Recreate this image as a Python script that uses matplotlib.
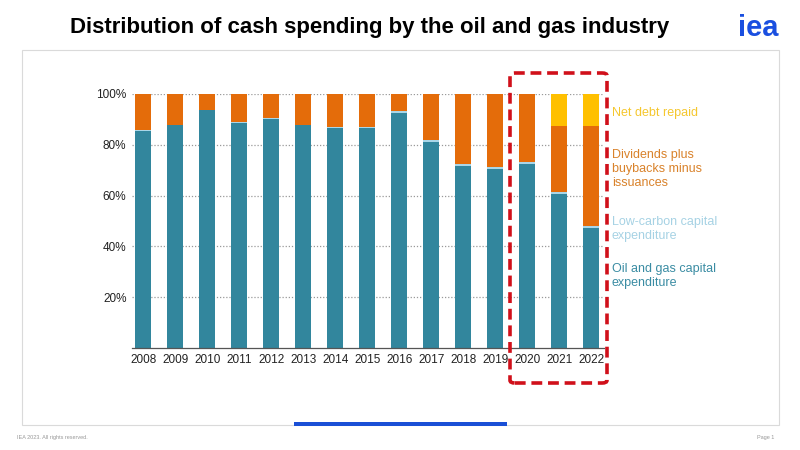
import matplotlib.pyplot as plt
from matplotlib.patches import FancyBboxPatch, Rectangle
import numpy as np

plt.rcParams['font.family'] = ['Liberation Sans', 'DejaVu Sans']

# data (shares of total cash spending, %)
years = ['2008', '2009', '2010', '2011', '2012', '2013', '2014', '2015',
         '2016', '2017', '2018', '2019', '2020', '2021', '2022']
oil_gas_capex = [85.5, 87.7, 93.6, 88.6, 90.2, 87.6, 86.7, 86.7,
                 92.6, 81.2, 71.8, 70.5, 72.3, 60.8, 47.2]
low_carbon_capex = [0.2, 0.2, 0.2, 0.2, 0.3, 0.3, 0.3, 0.4,
                    0.6, 0.6, 0.6, 0.6, 0.8, 0.8, 1.0]
net_debt_repaid = [0, 0, 0, 0, 0, 0, 0, 0, 0, 0, 0, 0, 0, 12.6, 12.6]
dividends = [100 - a - b - c for a, b, c in
             zip(oil_gas_capex, low_carbon_capex, net_debt_repaid)]

series_names = ['Oil and gas capital\nexpenditure',
                'Low-carbon capital\nexpenditure',
                'Dividends plus\nbuybacks minus\nissuances',
                'Net debt repaid']
bar_colors = ['#32869D', '#A9D6E8', '#E46C0A', '#FFC000']
text_colors = ['#3A8CA3', '#A6D2E4', '#D9822B', '#F5C72E']
label_top_px = [263, 216, 149, 107]   # top of each side label, pixels from top

fig = plt.figure(figsize=(8, 4.5), dpi=100)

# slide frame, footer and branding
fig.patches.append(Rectangle((22 / 800, 25 / 450), 757 / 800, 375 / 450,
                             transform=fig.transFigure, fill=False,
                             edgecolor='#DADADA', linewidth=0.8))
fig.patches.append(Rectangle((294 / 800, 24 / 450), 213 / 800, 4 / 450,
                             transform=fig.transFigure, facecolor='#1A4FD6',
                             edgecolor='none'))
fig.text(70 / 800, 1 - 28 / 450,
         'Distribution of cash spending by the oil and gas industry',
         fontsize=16, fontweight='bold', va='center', ha='left', color='black')
fig.text(779 / 800, 1 - 28 / 450, 'iea', fontsize=21, fontweight='bold',
         color='#1A4FE0', va='center', ha='right')
fig.text(17 / 800, 1 - 437 / 450, 'IEA 2023. All rights reserved.',
         fontsize=4, color='#999999', va='center')
fig.text(774 / 800, 1 - 437 / 450, 'Page 1', fontsize=4, color='#999999',
         va='center', ha='right')

ax = fig.add_axes([132 / 800, 1 - 348 / 450, 472 / 800, 254 / 450])
x = np.arange(len(years))
bottom = np.zeros(len(years))
stacks = [oil_gas_capex, low_carbon_capex, dividends, net_debt_repaid]
for vals, col in zip(stacks, bar_colors):
    ax.bar(x, vals, width=0.5, bottom=bottom, color=col, zorder=2)
    bottom += np.array(vals)

ax.set_xlim(-0.35, len(years) - 0.6)
ax.set_ylim(0, 100)
ax.set_yticks([20, 40, 60, 80, 100])
ax.set_yticklabels(['20%', '40%', '60%', '80%', '100%'])
ax.set_xticks(x)
ax.set_xticklabels(years)
ax.tick_params(length=0, labelsize=8.5, colors='#222222', pad=4)
ax.grid(axis='y', linestyle=(0, (1, 1.5)), color='#999999', linewidth=0.9,
        zorder=1)
for s in ['top', 'right', 'left']:
    ax.spines[s].set_visible(False)
ax.spines['bottom'].set_color('#555555')
ax.spines['bottom'].set_linewidth(0.9)

for name, col, top in zip(series_names, text_colors, label_top_px):
    fig.text(612 / 800, 1 - top / 450, name, color=col, fontsize=9,
             va='top', ha='left', linespacing=1.25)

# red dashed highlight around 2020-2022
box = FancyBboxPatch((510 / 800, 1 - 383 / 450), 97 / 800, 310 / 450,
                     boxstyle='round,pad=0,rounding_size=0.006',
                     transform=fig.transFigure, fill=False,
                     edgecolor='#D0101A', linewidth=2.6,
                     linestyle=(0, (3, 1.6)), zorder=5)
fig.patches.append(box)

fig.savefig('out.png', dpi=100)
